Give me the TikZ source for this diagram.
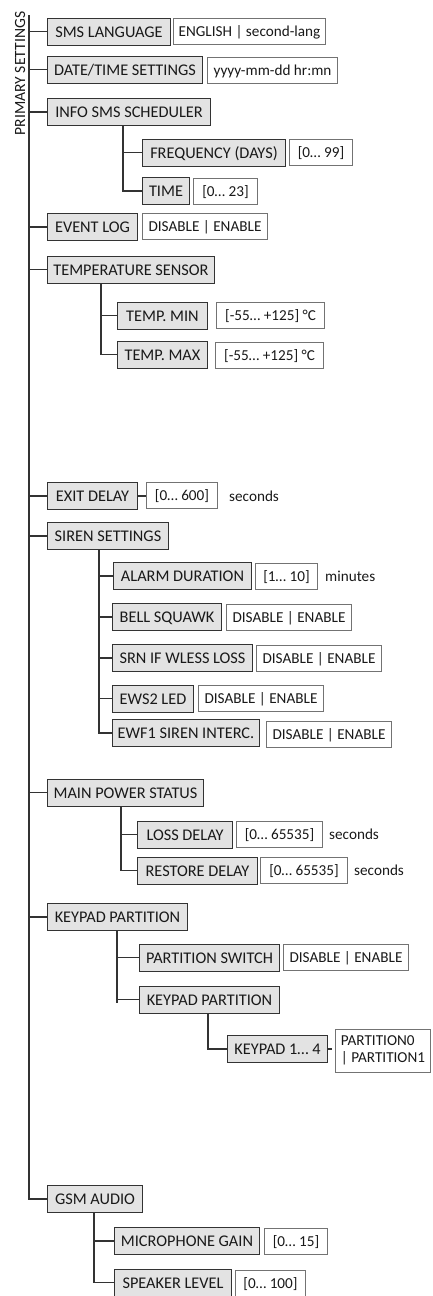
\documentclass[tikz,border=0pt]{standalone}
\usepackage{fontspec}
\setmainfont{Carlito}
\usepackage{tikz}
\usetikzlibrary{calc,positioning}
\colorlet{colorFILL}{black!11}
\colorlet{colorITEM}{black!80}
\colorlet{colorVAL}{black!55}
\colorlet{colorLINK}{black!80}
\tikzset{
   item/.style={draw=colorITEM,fill=colorFILL,line width=1pt,anchor=west,
      minimum height=27pt,inner xsep=3pt,inner ysep=0pt,text height=11pt,text depth=0pt},
   valbox/.style={draw=colorVAL,fill=white,line width=1pt,anchor=west,
      inner xsep=3pt,inner ysep=0pt,font=\fontsize{15.2}{17}\selectfont},
   value/.style={valbox,minimum height=26pt,text height=10.5pt,text depth=0pt},
   unit/.style={anchor=west,inner sep=0pt,text height=10.5pt,text depth=0pt,
      font=\fontsize{15.2}{17}\selectfont},
   link/.style={draw=colorLINK,line width=1.4pt},
}

\begin{document}
\begin{tikzpicture}[
    x=1pt,y=-1pt,
    every node/.style={font=\fontsize{16.3}{18}\selectfont, text=black!90}
]
\useasboundingbox (0,0) rectangle (432,1296);

% =========================================================
% root
% =========================================================

\node[rotate=90,inner sep=0pt,font=\fontsize{15.6}{17}\selectfont] (root) at (20,73.5) {PRIMARY SETTINGS};
\coordinate (main) at (29,15);


% =========================================================
% SMS language, date/time
% =========================================================

\node[item,minimum width=123pt] (sms) at (47,31.5) {SMS LANGUAGE};
\node[value,minimum width=152pt] (smsval) at (173,31.5) {ENGLISH | second-lang};

\node[item,minimum width=155pt] (date) at (47,69.5) {DATE/TIME SETTINGS};
\node[value,minimum width=130pt] (dateval) at (207,70) {yyyy-mm-dd hr:mn};


% =========================================================
% info SMS scheduler
% =========================================================

\node[item,minimum width=163pt] (info) at (47,112) {INFO SMS SCHEDULER};

\node[item,minimum width=143pt] (freq) at (142,152.5) {FREQUENCY (DAYS)};
\node[value,minimum width=63pt] (freqval) at (289,152) {[0… 99]};

\node[item,minimum width=47pt] (time) at (142,191) {TIME};
\node[value,minimum width=64pt] (timeval) at (193,191) {[0… 23]};

\coordinate (infoS) at (123,125.5);
\draw[link] (infoS) |- (time.west);
\draw[link] (infoS |- freq.west) -- (freq.west);


% =========================================================
% event log, temperature
% =========================================================

\node[item,minimum width=90pt] (event) at (47,227) {EVENT LOG};
\node[value,minimum width=125pt] (eventval) at (142,226.5) {DISABLE | ENABLE};

\node[item,minimum width=167pt] (temp) at (47,269.5) {TEMPERATURE SENSOR};

\node[item,minimum width=90pt] (tmin) at (117,315.5) {TEMP. MIN};
\node[value,minimum width=108pt] (tminval) at (216,315.5) {[-55… +125] °C};

\node[item,minimum width=90pt] (tmax) at (117,354.5) {TEMP. MAX};
\node[value,minimum width=108pt] (tmaxval) at (215,355.5) {[-55… +125] °C};

\coordinate (tempS) at (101,283);
\draw[link] (tempS) |- (tmax.west);
\draw[link] (tempS |- tmin.west) -- (tmin.west);


% =========================================================
% exit delay, siren
% =========================================================

\node[item,minimum width=90pt] (exit) at (47,496) {EXIT DELAY};
\node[value,minimum width=71pt] (exitval) at (146,495) {[0… 600]};
\node[unit] (exitunit) at (229,496) {seconds};
\draw[link] (exit.east) -- (exitval.west |- exit.east);

\node[item,minimum width=121pt] (siren) at (47,536) {SIREN SETTINGS};

\node[item,minimum width=138pt] (alarm) at (113,576) {ALARM DURATION};
\node[value,minimum width=62pt] (alarmval) at (255,576) {[1… 10]};
\node[unit] (alarmunit) at (325,576) {minutes};

\node[item,minimum width=109pt] (bell) at (112,617) {BELL SQUAWK};
\node[value,minimum width=125pt] (bellval) at (226,617) {DISABLE | ENABLE};

\node[item,minimum width=140pt] (srn) at (112,658) {SRN IF WLESS LOSS};
\node[value,minimum width=125pt] (srnval) at (256,658) {DISABLE | ENABLE};

\node[item,minimum width=81pt] (ews) at (112,698.5) {EWS2 LED};
\node[value,minimum width=125pt] (ewsval) at (198,698.5) {DISABLE | ENABLE};

\node[item,minimum width=147pt] (ewf) at (112,733) {EWF1 SIREN INTERC.};
\node[value,minimum width=125pt] (ewfval) at (266,734) {DISABLE | ENABLE};

\coordinate (sirenS) at (99,550);
\draw[link] (sirenS) |- (ewf.west);
\foreach \n in {alarm,bell,srn,ews}
   \draw[link] (sirenS |- \n.west) -- (\n.west);


% =========================================================
% main power
% =========================================================

\node[item,minimum width=156pt] (power) at (47,792.5) {MAIN POWER STATUS};

\node[item,minimum width=95pt] (loss) at (137,834.5) {LOSS DELAY};
\node[value,minimum width=86pt] (lossval) at (236,834.5) {[0… 65535]};
\node[unit] (lossunit) at (329,834.5) {seconds};

\node[item,minimum width=120pt] (restore) at (137,870.5) {RESTORE DELAY};
\node[value,minimum width=87pt] (restoreval) at (260,870.5) {[0… 65535]};
\node[unit] (restoreunit) at (354,870.5) {seconds};

\coordinate (powerS) at (121,806.5);
\draw[link] (powerS) |- (restore.west);
\draw[link] (powerS |- loss.west) -- (loss.west);


% =========================================================
% keypad partition
% =========================================================

\node[item,minimum width=140pt] (keypad) at (47,917) {KEYPAD PARTITION};

\node[item,minimum width=140pt] (pswitch) at (139,957.5) {PARTITION SWITCH};
\node[value,minimum width=125pt] (pswitchval) at (283,957.5) {DISABLE | ENABLE};

\node[item,minimum width=140pt] (kpart) at (139,999.5) {KEYPAD PARTITION};

\node[item,minimum width=100pt] (kp) at (227,1049) {KEYPAD 1… 4};
\node[valbox,minimum width=95pt,minimum height=43pt,align=left] (kpval) at (335,1050.5) {PARTITION0\\| PARTITION1};
\coordinate (kpend) at (332,1049);
\draw[link] (kp.east) -- (kpend);

\coordinate (keypadS) at (117,930.5);
\draw[link] (keypadS) -- (keypadS |- 0,1003);
\foreach \n in {pswitch,kpart}
   \draw[link] (keypadS |- \n.west) -- (\n.west);

\coordinate (kpartS) at (208,1013);
\draw[link] (kpartS) |- (kp.west);


% =========================================================
% GSM audio
% =========================================================

\node[item,minimum width=95pt] (gsm) at (47,1199) {GSM AUDIO};

\node[item,minimum width=145pt] (mic) at (114,1241) {MICROPHONE GAIN};
\node[value,minimum width=63pt] (micval) at (264,1241) {[0… 15]};

\node[item,minimum width=117pt] (spk) at (114,1282.5) {SPEAKER LEVEL};
\node[value,minimum width=70pt] (spkval) at (235,1283) {[0… 100]};

\coordinate (gsmS) at (94,1212.5);
\draw[link] (gsmS) |- (spk.west);
\draw[link] (gsmS |- mic.west) -- (mic.west);


% main line
\draw[link] (main) |- (gsm.west);
\foreach \n in {sms,date,info,event,temp,exit,siren,power,keypad}
   \draw[link] (main |- \n.west) -- (\n.west);

\end{tikzpicture}
\end{document}
